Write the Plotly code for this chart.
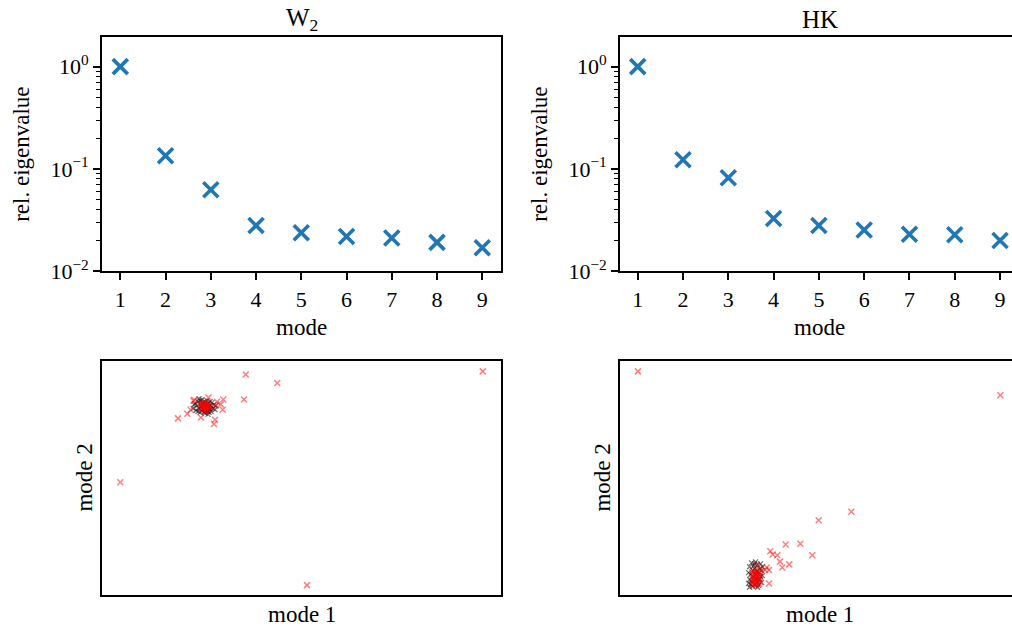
import plotly.graph_objects as go

# ---------------- data ----------------
modes = [1, 2, 3, 4, 5, 6, 7, 8, 9]
eig_w2 = [1.0, 0.135, 0.0627, 0.0280, 0.0238, 0.0219, 0.0212, 0.0192, 0.0170]
eig_hk = [1.0, 0.123, 0.0823, 0.0329, 0.0280, 0.0254, 0.0231, 0.0228, 0.0200]

ytick_vals = [0.01, 0.1, 1]
ytick_text = ["10<sup>\u22122</sup>", "10<sup>\u22121</sup>", "10<sup>0</sup>"]
ytick_minor = [0.02, 0.03, 0.04, 0.05, 0.06, 0.07, 0.08, 0.09,
               0.2, 0.3, 0.4, 0.5, 0.6, 0.7, 0.8, 0.9, 2.0]

# W2 projections (mode 1, mode 2)
w2_black_x = [-1.087, -1.067, -1.057, -1.047, -1.037, -1.037, -1.027, -1.017, -1.017, -1.007,
              -1.007, -0.997, -0.997, -0.987, -0.987, -0.977, -0.977, -0.967, -0.967, -0.967,
              -0.957, -0.957, -0.947, -0.947, -0.937, -0.937, -0.927, -0.927, -0.917, -0.917,
              -0.907, -0.907, -0.897, -0.887, -0.877, -0.867, -0.857, -1.077, -1.027, -0.937]
w2_black_y = [0.708, 0.758, 0.688, 0.738, 0.678, 0.778, 0.708, 0.788, 0.668, 0.728,
              0.758, 0.688, 0.798, 0.708, 0.768, 0.668, 0.738, 0.698, 0.778, 0.658,
              0.748, 0.688, 0.788, 0.718, 0.678, 0.758, 0.728, 0.668, 0.778, 0.698,
              0.738, 0.678, 0.768, 0.708, 0.748, 0.698, 0.738, 0.748, 0.808, 0.648]
w2_red_x = [1.817, -0.559, -0.243, -0.576, -0.784, -0.810, -0.790, -1.238, -1.145, -1.111,
            -1.008, -0.867, -0.877, -1.817, 0.055, -1.083, -0.933, -0.848, -0.867, -1.075,
            -1.007, -0.997, -0.987, -0.987, -0.977, -0.977, -0.967, -0.967, -0.967, -0.957,
            -0.957, -0.947, -0.947, -0.937, -0.937, -0.927, -1.007, -0.997, -0.957, -0.967]
w2_red_y = [1.089, 1.056, 0.969, 0.801, 0.801, 0.751, 0.695, 0.607, 0.655, 0.695,
            0.617, 0.594, 0.550, -0.048, -1.102, 0.788, 0.821, 0.778, 0.735, 0.795,
            0.748, 0.708, 0.768, 0.728, 0.698, 0.748, 0.728, 0.758, 0.708, 0.738,
            0.688, 0.718, 0.758, 0.728, 0.698, 0.738, 0.718, 0.758, 0.718, 0.688]

# HK projections (mode 1, mode 2)
hk_black_x = [-0.711, -0.701, -0.701, -0.691, -0.691, -0.681, -0.681, -0.671, -0.671, -0.661,
              -0.661, -0.651, -0.651, -0.641, -0.641, -0.641, -0.631, -0.631, -0.621, -0.621,
              -0.611, -0.611, -0.601, -0.601, -0.591, -0.591, -0.581, -0.581, -0.571, -0.711,
              -0.571, -0.701, -0.621, -0.651]
hk_black_y = [-0.974, -1.044, -0.914, -1.094, -0.994, -0.874, -1.064, -0.954, -1.114, -1.014,
              -0.904, -1.054, -0.934, -0.994, -1.094, -0.864, -0.964, -1.034, -1.074, -0.894,
              -0.984, -1.104, -0.934, -1.044, -1.014, -0.884, -0.954, -1.074, -1.004, -1.084,
              -0.914, -1.124, -1.124, -0.884]
hk_red_x = [-1.820, 1.813, 0.319, -0.008, -0.339, -0.192, -0.072, -0.493, -0.469, -0.423,
            -0.396, -0.373, -0.303, -0.506, -0.546, -0.630, -0.506, -0.589, -0.529,
            -0.676, -0.676, -0.676, -0.666, -0.666, -0.656, -0.656, -0.656, -0.646, -0.646,
            -0.636, -0.636, -0.636, -0.636, -0.626, -0.626, -0.616, -0.616, -0.606, -0.606,
            -0.606, -0.596, -0.596, -0.646]
hk_red_y = [1.089, 0.845, -0.349, -0.437, -0.685, -0.678, -0.795, -0.755, -0.788, -0.795,
            -0.861, -0.922, -0.889, -0.946, -0.946, -0.889, -1.086, -0.936, -0.922,
            -0.969, -1.029, -1.089, -0.999, -1.059, -0.959, -1.029, -1.099, -0.989, -1.069,
            -0.949, -1.019, -1.049, -1.109, -0.979, -1.079, -1.009, -1.059, -0.969, -1.029,
            -1.089, -0.999, -1.069, -1.039]

# ---------------- figure ----------------
W, H = 1012, 641
FONT = "Liberation Serif"
BLUE = "#1f77b4"
RED = "rgba(255,0,0,0.5)"
BLACK = "rgba(0,0,0,0.55)"

def px_x(p):
    return p / W

def px_y(p):
    return 1 - p / H

fig = go.Figure()

# top panels
fig.add_trace(go.Scatter(x=modes, y=eig_w2, mode="markers", xaxis="x", yaxis="y",
                         marker=dict(symbol="x-thin", size=15, line=dict(width=3.6, color=BLUE), color=BLUE),
                         showlegend=False))
fig.add_trace(go.Scatter(x=modes, y=eig_hk, mode="markers", xaxis="x2", yaxis="y2",
                         marker=dict(symbol="x-thin", size=15, line=dict(width=3.6, color=BLUE), color=BLUE),
                         showlegend=False))

# bottom panels
for xs, ys, ax, ay in [(w2_black_x, w2_black_y, "x3", "y3"), (hk_black_x, hk_black_y, "x4", "y4")]:
    fig.add_trace(go.Scatter(x=xs, y=ys, mode="markers", xaxis=ax, yaxis=ay,
                             marker=dict(symbol="x-thin", size=5, line=dict(width=1.2, color=BLACK)),
                             showlegend=False))
for xs, ys, ax, ay in [(w2_red_x, w2_red_y, "x3", "y3"), (hk_red_x, hk_red_y, "x4", "y4")]:
    fig.add_trace(go.Scatter(x=xs, y=ys, mode="markers", xaxis=ax, yaxis=ay,
                             marker=dict(symbol="x-thin", size=6, line=dict(width=1.5, color=RED)),
                             showlegend=False))

L_dom = [px_x(102), px_x(501)]
R_dom = [px_x(620), 1.0]
T_dom = [px_y(277), px_y(38)]
B_dom = [px_y(607), px_y(368)]

tickfont = dict(family=FONT, size=22, color="black")
line_common = dict(showline=True, linecolor="black", linewidth=1.6, showgrid=False, zeroline=False)

def top_x(dom, rng, anchor):
    return dict(domain=dom, anchor=anchor, range=rng, tickmode="array", tickvals=modes,
                ticktext=[str(m) for m in modes], ticks="outside", ticklen=7, tickwidth=1.5,
                tickcolor="black", tickfont=tickfont, mirror=True, **line_common)

def top_y(dom, anchor, mirror):
    return dict(domain=dom, anchor=anchor, type="log", range=[-2, 0.287], tickmode="array",
                tickvals=ytick_vals, ticktext=ytick_text, ticks="outside", ticklen=7, tickwidth=1.5,
                tickcolor="black", tickfont=tickfont, mirror=mirror,
                minor=dict(tickmode="array", tickvals=ytick_minor, ticks="outside", ticklen=4,
                           tickwidth=1.1, tickcolor="black", showgrid=False),
                **line_common)

def bot_x(dom, rng, anchor):
    return dict(domain=dom, anchor=anchor, range=rng, showticklabels=False, ticks="",
                mirror=True, **line_common)

def bot_y(dom, anchor, mirror):
    return dict(domain=dom, anchor=anchor, range=[-1.2, 1.2], showticklabels=False, ticks="",
                mirror=mirror, **line_common)

fig.update_layout(
    width=W, height=H,
    margin=dict(l=0, r=0, t=0, b=0),
    paper_bgcolor="white", plot_bgcolor="white",
    xaxis=top_x(L_dom, [0.596, 9.414], "y"),
    yaxis=top_y(T_dom, "x", True),
    xaxis2=top_x(R_dom, [0.609, 9.264], "y2"),
    yaxis2=top_y(T_dom, "x2", False),
    xaxis3=bot_x(L_dom, [-2.0, 2.0], "y3"),
    yaxis3=bot_y(B_dom, "x3", True),
    xaxis4=bot_x(R_dom, [-2.0, 1.930], "y4"),
    yaxis4=bot_y(B_dom, "x4", False),
)

lab = dict(family=FONT, size=23, color="black")
titlef = dict(family=FONT, size=25, color="black")
annots = [
    dict(text="W<sub>2</sub>", x=px_x(301.5), y=px_y(20), font=titlef),
    dict(text="HK", x=px_x(819.5), y=px_y(20), font=titlef),
    dict(text="mode", x=px_x(301.5), y=px_y(334), font=lab),
    dict(text="mode", x=px_x(819.5), y=px_y(334), font=lab),
    dict(text="rel. eigenvalue", x=px_x(22), y=px_y(158), font=lab, textangle=-90),
    dict(text="rel. eigenvalue", x=px_x(540), y=px_y(158), font=lab, textangle=-90),
    dict(text="mode 1", x=px_x(301.5), y=px_y(627), font=lab),
    dict(text="mode 1", x=px_x(819.5), y=px_y(627), font=lab),
    dict(text="mode 2", x=px_x(85), y=px_y(487.5), font=lab, textangle=-90),
    dict(text="mode 2", x=px_x(603), y=px_y(487.5), font=lab, textangle=-90),
]
for a in annots:
    fig.add_annotation(xref="paper", yref="paper", showarrow=False,
                       xanchor="center", yanchor="middle", **a)

post = "document.body.style.margin='0';document.body.style.padding='0';"
fig.write_html("out.html", config={"displayModeBar": False}, post_script=post)
